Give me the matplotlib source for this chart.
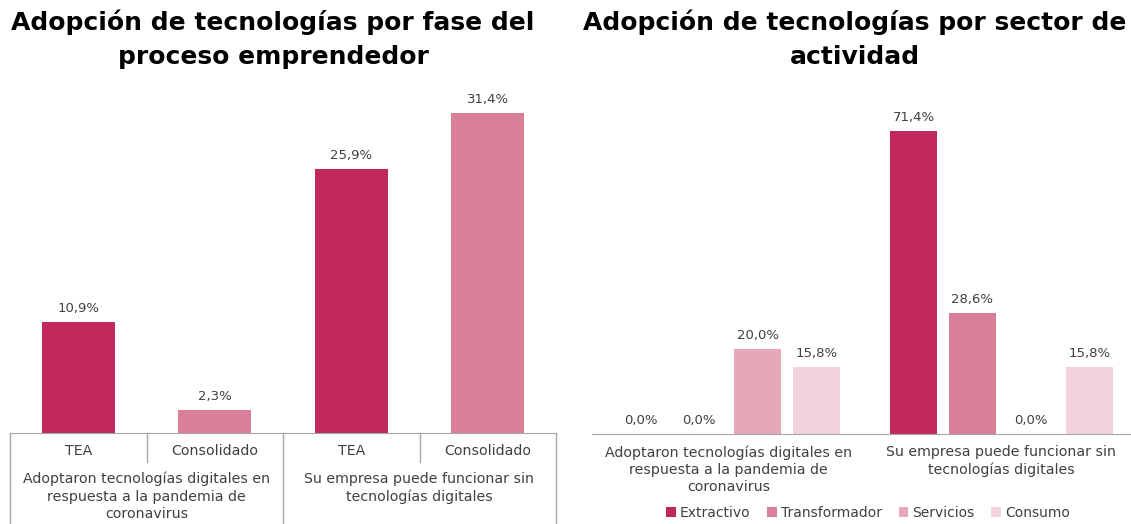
import matplotlib
matplotlib.use("Agg")
import matplotlib.pyplot as plt
import matplotlib.transforms as mtransforms
from matplotlib.patches import Patch

plt.rcParams['font.family'] = ['DejaVu Sans']

# left chart data
fase_labels = ["TEA", "Consolidado", "TEA", "Consolidado"]
fase_values = [10.9, 2.3, 25.9, 31.4]
fase_groups = ["Adoptaron tecnologías digitales en\nrespuesta a la pandemia de\ncoronavirus",
               "Su empresa puede funcionar sin\ntecnologías digitales"]

# right chart data
sectores = ["Extractivo", "Transformador", "Servicios", "Consumo"]
sector_groups = ["Adoptaron tecnologías digitales en\nrespuesta a la pandemia de\ncoronavirus",
                 "Su empresa puede funcionar sin\ntecnologías digitales"]
sector_values = {
    "Extractivo": [0.0, 71.4],
    "Transformador": [0.0, 28.6],
    "Servicios": [20.0, 0.0],
    "Consumo": [15.8, 15.8],
}

colors = {"Extractivo": "#C0295A", "Transformador": "#D97F98",
          "Servicios": "#E4A8B9", "Consumo": "#F2D3DC"}
txt = "#404040"
W, H = 1131, 524

fig = plt.figure(figsize=(W / 100, H / 100), dpi=100)

def px_axes(x0, x1, y_top, y_bot):
    return fig.add_axes([x0 / W, 1 - y_bot / H, (x1 - x0) / W, (y_bot - y_top) / H])

def fmt(v):
    return f"{v:.1f}%".replace(".", ",")

# ---------- left ----------
ax1 = px_axes(10, 556, 100, 433)
xs = list(range(len(fase_values)))
bar_cols = [colors["Extractivo"], colors["Transformador"]] * 2
bars = ax1.bar(xs, fase_values, width=0.535, color=bar_cols)
for b, v in zip(bars, fase_values):
    ax1.annotate(fmt(v), (b.get_x() + b.get_width() / 2, v), xytext=(0, 5),
                 textcoords="offset points", ha="center", va="bottom",
                 fontsize=9.5, color=txt)
ax1.set_xlim(-0.5, 3.5)
ax1.set_ylim(0, 333 / 10.2)
for s in ["top", "right", "left"]:
    ax1.spines[s].set_visible(False)
ax1.spines["bottom"].set_color("#A6A6A6")
ax1.set_yticks([])
ax1.set_xticks([])

tr1 = mtransforms.blended_transform_factory(ax1.transData, fig.transFigure)
for x in [-0.5, 1.5, 3.5]:
    ax1.plot([x, x], [1 - 433 / H, 0], color="#A6A6A6", lw=1, transform=tr1, clip_on=False)
for x in [0.5, 2.5]:
    ax1.plot([x, x], [1 - 433 / H, 1 - 462 / H], color="#A6A6A6", lw=1, transform=tr1, clip_on=False)
for x, lab in zip(xs, fase_labels):
    ax1.text(x, 1 - 451 / H, lab, transform=tr1, ha="center", va="center",
             fontsize=10.2, color=txt)
for i, g in enumerate(fase_groups):
    ax1.text(0.5 + 2 * i, 1 - 472 / H, g, transform=tr1, ha="center", va="top",
             fontsize=10.2, color=txt, linespacing=1.3)

fig.text(273 / W, 1 - 39 / H, "Adopción de tecnologías por fase del\nproceso emprendedor",
         ha="center", va="center", fontsize=18, fontweight="bold", color="black",
         linespacing=1.55)

# ---------- right ----------
ax2 = px_axes(592, 1131, 100, 434)
n = len(sectores)
step, bw = 0.214, 0.172
for j, s in enumerate(sectores):
    pos = [g + (j - (n - 1) / 2) * step for g in range(len(sector_groups))]
    vals = sector_values[s]
    ax2.bar(pos, vals, width=bw, color=colors[s], label=s)
    for p, v in zip(pos, vals):
        ax2.annotate(fmt(v), (p, v), xytext=(0, 5), textcoords="offset points",
                     ha="center", va="bottom", fontsize=9.5, color=txt)
ax2.set_xlim(-0.5, -0.5 + 539 / 273)
ax2.set_ylim(0, 334 / 4.24)
for s in ["top", "right", "left"]:
    ax2.spines[s].set_visible(False)
ax2.spines["bottom"].set_color("#A6A6A6")
ax2.set_yticks([])
ax2.set_xticks([])

tr2 = mtransforms.blended_transform_factory(ax2.transData, fig.transFigure)
for i, g in enumerate(sector_groups):
    ax2.text(i, 1 - 445 / H, g, transform=tr2, ha="center", va="top",
             fontsize=10.2, color=txt, linespacing=1.3)

fig.text(855 / W, 1 - 39 / H, "Adopción de tecnologías por sector de\nactividad",
         ha="center", va="center", fontsize=18, fontweight="bold", color="black",
         linespacing=1.55)

handles = [Patch(facecolor=colors[s], label=s) for s in sectores]
fig.legend(handles=handles, loc="center", bbox_to_anchor=(868 / W, 1 - 513 / H),
           ncol=4, frameon=False, fontsize=10, handlelength=0.7, handleheight=0.7,
           handletextpad=0.3, columnspacing=1.2, labelcolor=txt)

fig.savefig("out.png", dpi=100)
